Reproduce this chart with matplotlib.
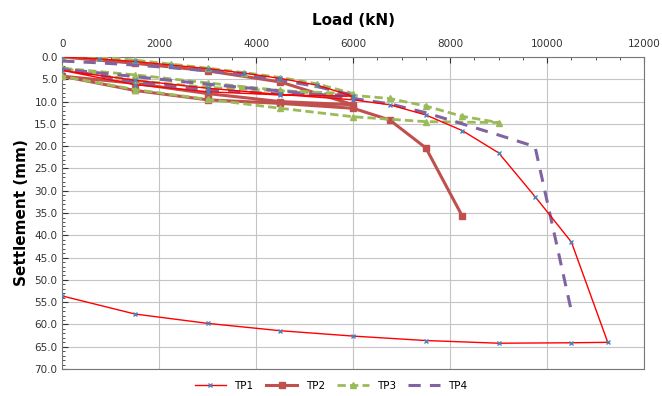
import numpy as np
import matplotlib.pyplot as plt
from matplotlib.ticker import MultipleLocator, FormatStrFormatter

# load (kN) / settlement (mm) for each test pile
load_tp1 = [0, 750, 1500, 2250, 3000, 3750, 4500, 5250, 6000, 4500, 3000, 1500, 0,
            1500, 3000, 4500, 6000, 6750, 7500, 8250, 9000, 9750, 10500, 11250,
            10500, 9000, 7500, 6000, 4500, 3000, 1500, 0]
settle_tp1 = [0, 0.4, 1.0, 1.8, 2.6, 3.6, 4.8, 6.3, 8.8, 8.5, 7.8, 6.2, 3.0,
              5.2, 7.0, 8.4, 9.6, 10.7, 13.0, 16.5, 21.5, 31.3, 41.5, 64.0,
              64.1, 64.2, 63.6, 62.6, 61.4, 59.75, 57.65, 53.6]

load_tp2 = [0, 1500, 3000, 4500, 6000, 4500, 3000, 1500, 0,
            1500, 3000, 4500, 6000, 6750, 7500, 8250]
settle_tp2 = [0, 1.4, 3.1, 5.6, 10.7, 10.0, 8.2, 5.9, 4.3,
              7.5, 9.6, 10.4, 11.5, 14.1, 20.4, 35.7]

load_tp3 = [0, 750, 1500, 2250, 3000, 3750, 4500, 5250, 6000, 4500, 3000, 1500, 0,
            1500, 3000, 4500, 6000, 6750, 7500, 8250, 9000,
            7500, 6000, 4500, 3000, 1500, 0]
settle_tp3 = [0, 0, 0.7, 1.6, 2.5, 3.5, 4.6, 6.0, 8.2, 7.6, 6.8, 5.3, 2.5,
              4.0, 5.8, 7.5, 8.6, 9.3, 11.0, 13.3, 14.7,
              14.5, 13.4, 11.5, 9.5, 7.3, 4.3]

load_tp4 = [0, 750, 1500, 2250, 3000, 3750, 4500, 5250, 6000, 4500, 3000, 1500, 0,
            1500, 3000, 4500, 6000, 6750, 7500, 8250, 9000, 9750, 10500]
settle_tp4 = [0.9, 1.3, 1.8, 2.4, 3.1, 4.0, 5.2, 6.6, 8.6, 8.3, 7.4, 5.6, 2.7,
              4.4, 6.1, 7.6, 9.3, 10.5, 12.5, 15.0, 17.5, 20.1, 57.0]

fig = plt.figure(figsize=(6.62, 3.96), dpi=100)
ax = fig.add_axes([0.094, 0.068, 0.879, 0.788])

ax.plot(load_tp1, settle_tp1, color='#FF0000', lw=1, marker='x', ms=3.5,
        mec='#4F81BD', mew=1, label='TP1', zorder=4)
ax.plot(load_tp2, settle_tp2, color='#C0504D', lw=2.2, marker='s', ms=5,
        label='TP2', zorder=3)
ax.plot(load_tp3, settle_tp3, color='#9BBB59', lw=2, ls=(0, (3, 1.5)), marker='^',
        ms=5, label='TP3', zorder=3)
ax.plot(load_tp4, settle_tp4, color='#8064A2', lw=2.2, ls=(0, (4, 3)),
        label='TP4', zorder=3)

ax.set_xlim(0, 12000)
ax.set_ylim(70, 0)
ax.xaxis.tick_top()
ax.xaxis.set_label_position('top')
ax.xaxis.set_major_locator(MultipleLocator(2000))
ax.xaxis.set_minor_locator(MultipleLocator(500))
ax.yaxis.set_major_locator(MultipleLocator(5))
ax.yaxis.set_minor_locator(MultipleLocator(1))
ax.yaxis.set_major_formatter(FormatStrFormatter('%.1f'))
ax.tick_params(which='both', labelsize=7.5, colors='#333333', direction='in')
ax.tick_params(axis='x', pad=6)
ax.tick_params(which='major', length=4)
ax.tick_params(which='minor', length=2)
ax.grid(True, which='major', color='#c4c4c4', lw=0.8)
for s in ax.spines.values():
    s.set_color('#777777')

ax.set_xlabel('Load (kN)', fontsize=11, fontweight='bold', labelpad=10)
ax.set_ylabel('Settlement (mm)', fontsize=11, fontweight='bold', labelpad=4)

fig.legend(loc='lower center', ncol=4, frameon=False, fontsize=7.5,
           bbox_to_anchor=(0.5, -0.01), handlelength=3, columnspacing=1.2)

fig.savefig('out.png', dpi=100)
